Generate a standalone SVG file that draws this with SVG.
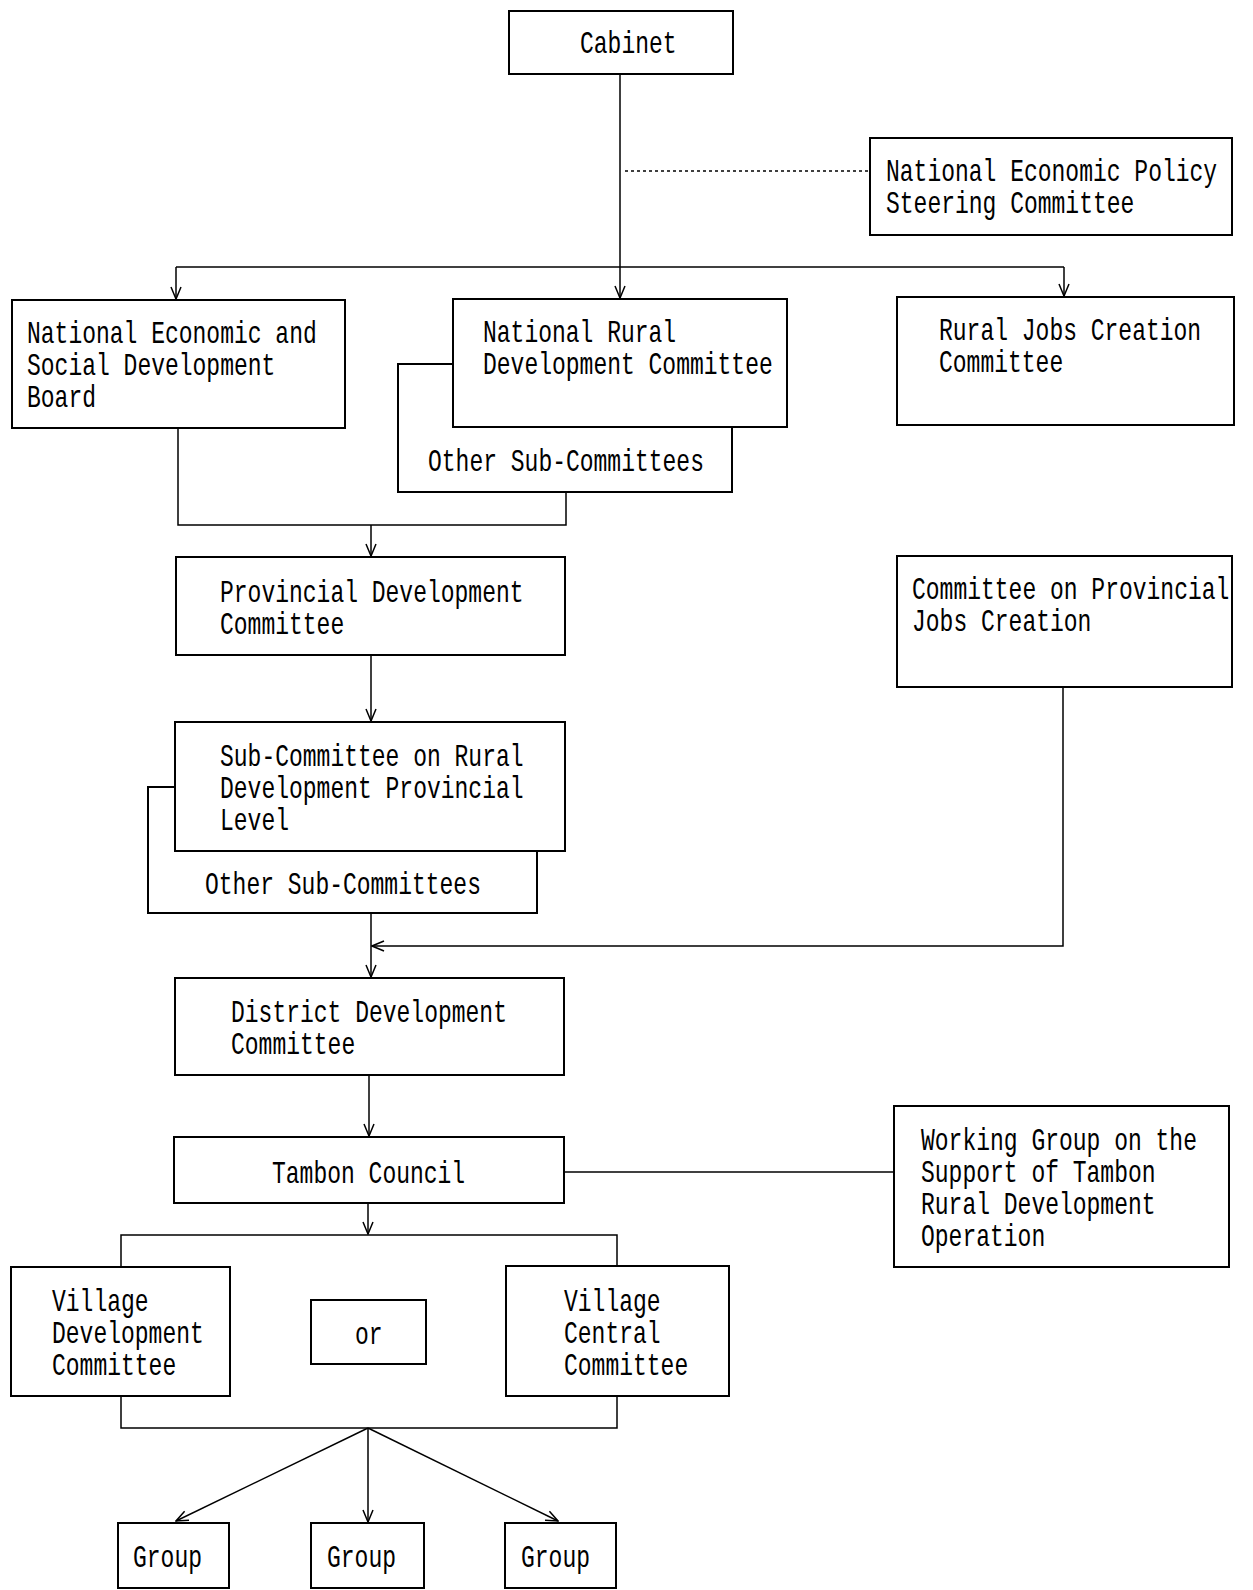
<svg xmlns="http://www.w3.org/2000/svg" width="1253" height="1590" viewBox="0 0 1253 1590">
<style>
.box{fill:#fff;stroke:#000;stroke-width:2}
.conn{fill:none;stroke:#000;stroke-width:1.5}
.dot{fill:none;stroke:#000;stroke-width:1.5;stroke-dasharray:3,3}
text{font-family:"Liberation Mono","DejaVu Sans Mono",monospace;font-size:23px;fill:#000}
</style>
<defs>
<marker id="arr" viewBox="-13 -6 14 12" refX="0" refY="0" markerWidth="14" markerHeight="12" markerUnits="userSpaceOnUse" orient="auto">
<path d="M-12,-5 L0,0 L-12,5" fill="none" stroke="#000" stroke-width="1.5"/>
</marker>
</defs>
<rect width="1253" height="1590" fill="#fff"/>
<g id="connectors">
<path class="conn" d="M620,74 V298" marker-end="url(#arr)"/>
<path class="dot" d="M625,171 H870"/>
<path class="conn" d="M176,267 H1064"/>
<path class="conn" d="M176,267 V299" marker-end="url(#arr)"/>
<path class="conn" d="M1064,267 V296" marker-end="url(#arr)"/>
<path class="conn" d="M178,428 V525 H566 V493"/>
<path class="conn" d="M371,525 V556" marker-end="url(#arr)"/>
<path class="conn" d="M371,655 V721" marker-end="url(#arr)"/>
<path class="conn" d="M371,913 V977" marker-end="url(#arr)"/>
<path class="conn" d="M1063,687 V946 H372" marker-end="url(#arr)"/>
<path class="conn" d="M369,1075 V1136" marker-end="url(#arr)"/>
<path class="conn" d="M564,1172 H894"/>
<path class="conn" d="M368,1203 V1234" marker-end="url(#arr)"/>
<path class="conn" d="M121,1267 V1235 H617 V1266"/>
<path class="conn" d="M121,1396 V1428 H617 V1396"/>
<path class="conn" d="M368,1428 L176,1521" marker-end="url(#arr)"/>
<path class="conn" d="M368,1428 V1522" marker-end="url(#arr)"/>
<path class="conn" d="M368,1428 L558,1521" marker-end="url(#arr)"/>
</g>
<g id="cabinet">
<rect class="box" x="509" y="11" width="224" height="63"/>
<text transform="translate(580,53) scale(1,1.35)">Cabinet</text>
</g>
<g id="nepsc">
<rect class="box" x="870" y="138" width="362" height="97"/>
<text transform="translate(886,181) scale(1,1.35)">National Economic Policy</text>
<text transform="translate(886,213) scale(1,1.35)">Steering Committee</text>
</g>
<g id="nesdb">
<rect class="box" x="12" y="300" width="333" height="128"/>
<text transform="translate(27,343) scale(1,1.35)">National Economic and</text>
<text transform="translate(27,375) scale(1,1.35)">Social Development</text>
<text transform="translate(27,407) scale(1,1.35)">Board</text>
</g>
<g id="other-sub-1">
<path class="box" d="M453,364 H398 V492 H732 V427"/>
<text transform="translate(428,471) scale(1,1.35)">Other Sub-Committees</text>
</g>
<g id="nrdc">
<rect class="box" x="453" y="299" width="334" height="128"/>
<text transform="translate(483,342) scale(1,1.35)">National Rural</text>
<text transform="translate(483,374) scale(1,1.35)">Development Committee</text>
</g>
<g id="rjcc">
<rect class="box" x="897" y="297" width="337" height="128"/>
<text transform="translate(939,340) scale(1,1.35)">Rural Jobs Creation</text>
<text transform="translate(939,372) scale(1,1.35)">Committee</text>
</g>
<g id="pdc">
<rect class="box" x="176" y="557" width="389" height="98"/>
<text transform="translate(220,602) scale(1,1.35)">Provincial Development</text>
<text transform="translate(220,634) scale(1,1.35)">Committee</text>
</g>
<g id="cpjc">
<rect class="box" x="897" y="556" width="335" height="131"/>
<text transform="translate(912,599) scale(1,1.35)">Committee on Provincial</text>
<text transform="translate(912,631) scale(1,1.35)">Jobs Creation</text>
</g>
<g id="other-sub-2">
<path class="box" d="M175,787 H148 V913 H537 V851"/>
<text transform="translate(205,894) scale(1,1.35)">Other Sub-Committees</text>
</g>
<g id="scrd">
<rect class="box" x="175" y="722" width="390" height="129"/>
<text transform="translate(220,766) scale(1,1.35)">Sub-Committee on Rural</text>
<text transform="translate(220,798) scale(1,1.35)">Development Provincial</text>
<text transform="translate(220,830) scale(1,1.35)">Level</text>
</g>
<g id="ddc">
<rect class="box" x="175" y="978" width="389" height="97"/>
<text transform="translate(231,1022) scale(1,1.35)">District Development</text>
<text transform="translate(231,1054) scale(1,1.35)">Committee</text>
</g>
<g id="tambon">
<rect class="box" x="174" y="1137" width="390" height="66"/>
<text transform="translate(272,1183) scale(1,1.35)">Tambon Council</text>
</g>
<g id="wg">
<rect class="box" x="894" y="1106" width="335" height="161"/>
<text transform="translate(921,1150) scale(1,1.35)">Working Group on the</text>
<text transform="translate(921,1182) scale(1,1.35)">Support of Tambon</text>
<text transform="translate(921,1214) scale(1,1.35)">Rural Development</text>
<text transform="translate(921,1246) scale(1,1.35)">Operation</text>
</g>
<g id="vdc">
<rect class="box" x="11" y="1267" width="219" height="129"/>
<text transform="translate(52,1311) scale(1,1.35)">Village</text>
<text transform="translate(52,1343) scale(1,1.35)">Development</text>
<text transform="translate(52,1375) scale(1,1.35)">Committee</text>
</g>
<g id="or">
<rect class="box" x="311" y="1300" width="115" height="64"/>
<text transform="translate(355,1344) scale(1,1.35)">or</text>
</g>
<g id="vcc">
<rect class="box" x="506" y="1266" width="223" height="130"/>
<text transform="translate(564,1311) scale(1,1.35)">Village</text>
<text transform="translate(564,1343) scale(1,1.35)">Central</text>
<text transform="translate(564,1375) scale(1,1.35)">Committee</text>
</g>
<g id="group1">
<rect class="box" x="118" y="1523" width="111" height="65"/>
<text transform="translate(133,1567) scale(1,1.35)">Group</text>
</g>
<g id="group2">
<rect class="box" x="311" y="1523" width="113" height="65"/>
<text transform="translate(327,1567) scale(1,1.35)">Group</text>
</g>
<g id="group3">
<rect class="box" x="505" y="1523" width="111" height="65"/>
<text transform="translate(521,1567) scale(1,1.35)">Group</text>
</g>
</svg>
